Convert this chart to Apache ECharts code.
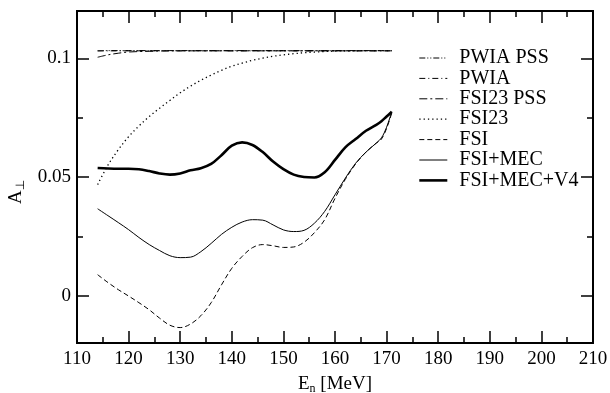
<!DOCTYPE html>
<html>
<head>
<meta charset="utf-8">
<script src="https://cdn.jsdelivr.net/npm/echarts@6/dist/echarts.min.js"></script>
<style>html,body{margin:0;padding:0;background:#fff}#c{width:610px;height:393px}</style>
</head>
<body>
<div id="c"></div>
<script>
const energies = [114,116,118,120,122,124,126,128,130,132,134,136,138,140,142,144,146,148,150,152,154,156,158,160,162,164,166,168,169,170,171];
const pwiaPss  = [0.1033,0.1033,0.1033,0.1033,0.1033,0.1033,0.1033,0.1033,0.1033,0.1033,0.1033,0.1033,0.1033,0.1033,0.1033,0.1033,0.1033,0.1033,0.1033,0.1033,0.1033,0.1033,0.1033,0.1033,0.1033,0.1033,0.1033,0.1033,0.1033,0.1033,0.1033];
const pwia     = [0.1031,0.1032,0.1032,0.1032,0.1032,0.1032,0.1032,0.1032,0.1032,0.1032,0.1032,0.1032,0.1032,0.1032,0.1032,0.1032,0.1032,0.1032,0.1032,0.1032,0.1032,0.1032,0.1032,0.1032,0.1032,0.1032,0.1032,0.1032,0.1032,0.1032,0.1032];
const fsi23Pss = [0.1005,0.1015,0.1022,0.1027,0.1029,0.1030,0.1031,0.1032,0.1032,0.1032,0.1032,0.1032,0.1032,0.1032,0.1032,0.1032,0.1032,0.1032,0.1032,0.1032,0.1032,0.1032,0.1032,0.1032,0.1032,0.1032,0.1032,0.1032,0.1032,0.1032,0.1032];
const fsi23    = [0.0468,0.0550,0.0615,0.0670,0.0715,0.0755,0.0790,0.0823,0.0855,0.0883,0.0908,0.0930,0.0950,0.0967,0.0980,0.0992,0.1001,0.1009,0.1015,0.1020,0.1024,0.1027,0.1029,0.1031,0.1032,0.1032,0.1033,0.1033,0.1033,0.1033,0.1033];
const fsi      = [0.0088,0.0055,0.0025,-0.0002,-0.0030,-0.0060,-0.0095,-0.0125,-0.0135,-0.0120,-0.0085,-0.0030,0.0045,0.0115,0.0165,0.0202,0.0215,0.0210,0.0203,0.0205,0.0225,0.0265,0.0320,0.0410,0.0490,0.0555,0.0605,0.0643,0.0660,0.0705,0.0770];
const fsiMec   = [0.0366,0.0337,0.0308,0.0278,0.0245,0.0215,0.0190,0.0168,0.0160,0.0162,0.0185,0.0220,0.0258,0.0288,0.0310,0.0320,0.0318,0.0298,0.0277,0.0270,0.0275,0.0305,0.0355,0.0425,0.0495,0.0558,0.0605,0.0643,0.0665,0.0710,0.0775];
const fsiMecV4 = [0.0538,0.0536,0.0535,0.0535,0.0533,0.0525,0.0515,0.0510,0.0515,0.0528,0.0537,0.0555,0.0592,0.0632,0.0646,0.0635,0.0605,0.0565,0.0533,0.0510,0.0500,0.0498,0.0520,0.0572,0.0625,0.0660,0.0695,0.0720,0.0735,0.0755,0.0775];
const seriesNames = ['PWIA PSS','PWIA','FSI23 PSS','FSI23','FSI','FSI+MEC','FSI+MEC+V4'];
const xTicks = [110,120,130,140,150,160,170,180,190,200,210];
const yMajorTicks = [0, 0.05, 0.1];
const yMinorTicks = [0.025, 0.075];

const FONT = 'Liberation Serif';
const seriesValues = [pwiaPss, pwia, fsi23Pss, fsi23, fsi, fsiMec, fsiMecV4];
const styles = [
  {type:[6,2,1,2,1,2], width:1},
  {type:[6,3,1,3], width:1},
  {type:[8,3,2,3], width:1},
  {type:[1.3,3], width:1.3},
  {type:[5,3], width:1},
  {type:'solid', width:1},
  {type:'solid', width:2.6}
];
const chart = echarts.init(document.getElementById('c'), null, {renderer:'canvas'});
const baseX = {
  type:'value', min:110, max:210, interval:10,
  axisLine:{show:true, onZero:false, lineStyle:{color:'#000', width:2}},
  axisTick:{show:true, inside:true, length:12, lineStyle:{color:'#000', width:1.5}},
  minorTick:{show:true, splitNumber:2, length:6, lineStyle:{color:'#000', width:1.5}},
  splitLine:{show:false}
};
const yBase = {
  type:'value', min:-0.02, max:0.12,
  axisLine:{show:true, onZero:false, lineStyle:{color:'#000', width:2}},
  splitLine:{show:false}
};
const option = {
  animation:false,
  backgroundColor:'#fff',
  grid:{left:77, right:17, top:11, bottom:50, containLabel:false, outerBoundsMode:'none'},
  legend:{
    orient:'vertical', left:413, top:43,
    itemWidth:28, itemHeight:14, itemGap:0.4,
    data: seriesNames.map((n,i)=>({
      name:n,
      lineStyle:{color:'#000', width:styles[i].width, type:styles[i].type},
      itemStyle:{opacity:0}
    })),
    itemStyle:{opacity:0},
    textStyle:{fontFamily:FONT, fontSize:20, color:'#000', lineHeight:20, padding:[0,0,0,7]}
  },
  xAxis:[
    Object.assign({}, baseX, {
      position:'bottom',
      axisLabel:{show:true, margin:7, color:'#000', fontFamily:FONT, fontSize:19},
      name:'E{sub|n} [MeV]', nameLocation:'middle', nameGap:31,
      nameTextStyle:{fontFamily:FONT, fontSize:19, color:'#000',
        rich:{sub:{fontFamily:FONT, fontSize:12, verticalAlign:'bottom', padding:[9,0,0,0]}}}
    }),
    Object.assign({}, baseX, {position:'top', axisLabel:{show:false}})
  ],
  yAxis:[
    Object.assign({}, yBase, {
      position:'left',
      axisTick:{show:true, inside:true, length:12, customValues:yMajorTicks, lineStyle:{color:'#000', width:1.5}},
      axisLabel:{show:true, customValues:yMajorTicks, margin:6, color:'#000', fontFamily:FONT, fontSize:19},
      name:'A{sub|⊥}', nameLocation:'middle', nameGap:35, nameRotate:90,
      nameTextStyle:{fontFamily:FONT, fontSize:19, color:'#000', padding:[0,30,0,0],
        rich:{sub:{fontFamily:'DejaVu Sans', fontSize:12, verticalAlign:'bottom', padding:[9,0,0,0]}}}
    }),
    Object.assign({}, yBase, {
      position:'left',
      axisTick:{show:true, inside:true, length:6, customValues:yMinorTicks, lineStyle:{color:'#000', width:1.5}},
      axisLabel:{show:false}
    }),
    Object.assign({}, yBase, {
      position:'right',
      axisTick:{show:true, inside:true, length:12, customValues:yMajorTicks, lineStyle:{color:'#000', width:1.5}},
      axisLabel:{show:false}
    }),
    Object.assign({}, yBase, {
      position:'right',
      axisTick:{show:true, inside:true, length:6, customValues:yMinorTicks, lineStyle:{color:'#000', width:1.5}},
      axisLabel:{show:false}
    })
  ],
  series: seriesNames.map((n,i)=>({
    name:n, type:'line', xAxisIndex:0, yAxisIndex:0,
    data: energies.map((e,j)=>[e, seriesValues[i][j]]),
    smooth:0.35, showSymbol:false, symbol:'none',
    lineStyle:{color:'#000', width:styles[i].width, type:styles[i].type},
    itemStyle:{color:'#000'}
  }))
};
chart.setOption(option);
</script>
</body>
</html>
